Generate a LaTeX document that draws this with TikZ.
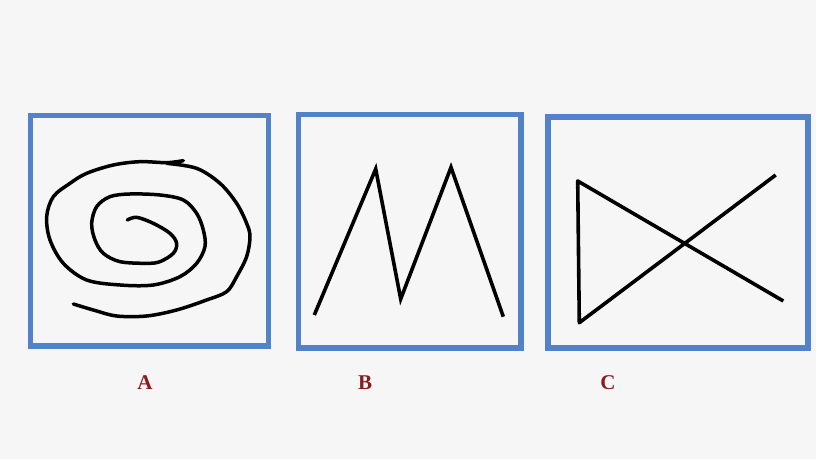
\documentclass[tikz,border=0pt]{standalone}
\usepackage{fontspec}
\setmainfont{Liberation Serif}
\definecolor{bg}{HTML}{F6F6F6}
\definecolor{boxblue}{HTML}{5282CA}
\definecolor{lblred}{HTML}{8A1C1C}
\begin{document}
\begin{tikzpicture}[x=1pt,y=-1pt,
  frame/.style={draw=boxblue,line width=5.5pt},
  stroke/.style={draw=black,line width=3.6pt,line join=round,line cap=round},
  lbl/.style={text=lblred,font=\fontsize{21}{21}\selectfont\bfseries,inner sep=0pt}]
\fill[bg] (0,0) rectangle (816,459);
\useasboundingbox (0,0) rectangle (816,459);
% frames
\draw[frame] (30.5,115.5) rectangle (268.5,346);
\draw[frame] (298.5,114.5) rectangle (521,348);
\draw[frame] (548,117) rectangle (808,348);
% spiral A
\begin{scope}[shift={(20,100)},x=0.3333pt,y=-0.3333pt]
\draw[stroke,line width=3.5pt] plot[smooth,tension=0.55] coordinates {
(322,360) (350,352) (400,370) (450,400) (470,430) (460,460) (420,485) (380,490)
(300,485) (250,460) (225,420) (215,370) (230,320) (270,290) (330,282) (420,285)
(490,300) (530,340) (550,390) (555,440) (530,490) (480,530) (400,555) (300,555)
(200,540) (130,490) (90,420) (80,350) (100,290) (150,250) (200,220) (280,195)
(360,185) (440,188) (490,182)};
\draw[stroke,line width=3.5pt] plot[smooth,tension=0.55] coordinates {
(440,190) (530,205) (600,250) (650,310) (680,370) (690,410) (680,470) (650,530)
(620,575) (560,600) (470,630) (380,648) (290,648) (220,630) (160,612)};
\end{scope}
% M shape B
\draw[stroke,line cap=butt,line join=miter] (314.3,315) -- (375.7,169) -- (400.7,299) -- (451,167.3) -- (503.3,316.7);
% bow shape C
\draw[stroke,line cap=butt] (783.3,301) -- (577.7,181) -- (579.3,322.7) -- (775.7,175);
% labels
\node[lbl] (la) at (145,383) {A};
\node[lbl] (lb) at (365,383) {B};
\node[lbl] (lc) at (608,383) {C};
\end{tikzpicture}
\end{document}
